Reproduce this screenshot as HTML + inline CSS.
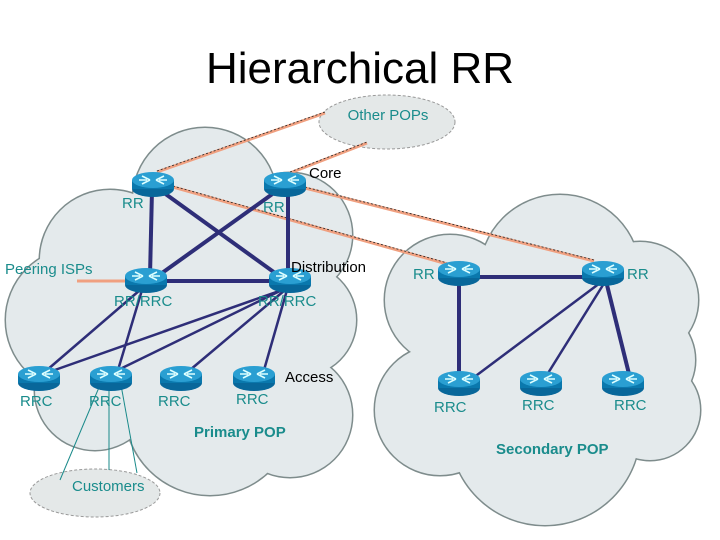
<!DOCTYPE html>
<html><head><meta charset="utf-8"><style>
body{margin:0;background:#fff;}
svg{display:block;}
text{font-family:"Liberation Sans",sans-serif;}
.t{fill:#1a8c8c;font-size:15px;}
.k{fill:#000;font-size:15px;}
</style></head><body>
<svg width="720" height="540" viewBox="0 0 720 540" xmlns="http://www.w3.org/2000/svg">
<defs>
<g id="r">
<ellipse cx="0" cy="5" rx="21" ry="8" fill="#08679a"/>
<rect x="-21" y="-4" width="42" height="9" fill="#0a78ad"/>
<ellipse cx="0" cy="-4" rx="21" ry="8" fill="#2a9fd2"/>
<path d="M-11,-8 L-3,-4 M-11,0 L-3,-4 M11,-8 L3,-4 M11,0 L3,-4 M-6,-4 L-14,-4 M6,-4 L14,-4" stroke="#dff" stroke-width="1.6" fill="none"/>
</g>
<g id="pc">
<circle cx="205" cy="200" r="72"/><circle cx="110" cy="260" r="70"/><circle cx="78" cy="320" r="72"/>
<circle cx="95" cy="390" r="60"/><circle cx="290" cy="235" r="62"/><circle cx="300" cy="320" r="56"/>
<circle cx="210" cy="410" r="85"/><circle cx="290" cy="415" r="62"/><circle cx="200" cy="300" r="90"/>
</g>
<g id="sc">
<circle cx="450" cy="300" r="65"/><circle cx="560" cy="275" r="80"/><circle cx="640" cy="300" r="58"/>
<circle cx="440" cy="410" r="65"/><circle cx="545" cy="430" r="95"/><circle cx="650" cy="410" r="50"/><circle cx="640" cy="360" r="55"/>
<circle cx="530" cy="350" r="90"/>
</g>
</defs>
<text x="360" y="83" text-anchor="middle" font-size="44" fill="#000">Hierarchical RR</text>

<use href="#pc" stroke="#7e8c8c" stroke-width="3" fill="#e4eaec"/>
<use href="#pc" fill="#e4eaec"/>
<use href="#sc" stroke="#7e8c8c" stroke-width="3" fill="#e4eaec"/>
<use href="#sc" fill="#e4eaec"/>

<ellipse cx="387" cy="122" rx="68" ry="27" stroke="#999" stroke-width="1" stroke-dasharray="3,2" fill="#e4e8e8"/>
<ellipse cx="95" cy="493" rx="65" ry="24" stroke="#999" stroke-width="1" stroke-dasharray="3,2" fill="#e4e8e8"/>

<g stroke="#f0a080" stroke-width="3" fill="none">
<line x1="157" y1="172" x2="325" y2="113"/><line x1="290" y1="173" x2="367" y2="143"/>
<line x1="173" y1="187" x2="458" y2="267"/><line x1="305" y1="188" x2="594" y2="261"/>
<line x1="77" y1="281" x2="127" y2="281"/>
</g>
<g stroke="#222" stroke-width="0.8" stroke-dasharray="2,2" fill="none">
<line x1="157" y1="171" x2="325" y2="112"/><line x1="290" y1="172" x2="367" y2="142"/>
<line x1="173" y1="186" x2="458" y2="266"/><line x1="305" y1="187" x2="594" y2="260"/>
</g>
<g stroke="#2e2e78" stroke-width="4" fill="none">
<line x1="152" y1="190" x2="150" y2="276"/><line x1="288" y1="190" x2="288" y2="276"/>
<line x1="160" y1="190" x2="282" y2="278"/><line x1="278" y1="190" x2="155" y2="278"/>
<line x1="160" y1="281" x2="280" y2="281"/>
<line x1="459" y1="280" x2="459" y2="378"/><line x1="470" y1="277" x2="590" y2="277"/>
<line x1="607" y1="285" x2="630" y2="378"/>
</g>
<g stroke="#2e2e78" stroke-width="2.5" fill="none">
<line x1="140" y1="290" x2="47" y2="370"/><line x1="142" y1="290" x2="118" y2="370"/>
<line x1="282" y1="290" x2="52" y2="371"/><line x1="282" y1="290" x2="118" y2="370"/>
<line x1="285" y1="290" x2="190" y2="370"/><line x1="287" y1="290" x2="264" y2="370"/>
<line x1="600" y1="283" x2="473" y2="378"/><line x1="603" y1="285" x2="545" y2="378"/>
</g>
<g stroke="#1a8a8a" stroke-width="1" fill="none">
<line x1="100" y1="385" x2="60" y2="480"/><line x1="109" y1="385" x2="109" y2="470"/><line x1="121" y1="385" x2="137" y2="473"/>
</g>

<use href="#r" x="153" y="184"/><use href="#r" x="285" y="184"/>
<use href="#r" x="146" y="280"/><use href="#r" x="290" y="280"/>
<use href="#r" x="39" y="378"/><use href="#r" x="111" y="378"/><use href="#r" x="181" y="378"/><use href="#r" x="254" y="378"/>
<use href="#r" x="459" y="273"/><use href="#r" x="603" y="273"/>
<use href="#r" x="459" y="383"/><use href="#r" x="541" y="383"/><use href="#r" x="623" y="383"/>

<text class="t" x="388" y="120" text-anchor="middle" font-size="14">Other POPs</text>
<text class="k" x="309" y="178">Core</text>
<text class="t" x="122" y="208">RR</text>
<text class="t" x="263" y="212">RR</text>
<text class="t" x="5" y="274">Peering ISPs</text>
<text class="k" x="291" y="272">Distribution</text>
<text class="t" x="114" y="306">RR/RRC</text>
<text class="t" x="258" y="306">RR/RRC</text>
<text class="k" x="285" y="382">Access</text>
<text class="t" x="20" y="406">RRC</text>
<text class="t" x="89" y="406">RRC</text>
<text class="t" x="158" y="406">RRC</text>
<text class="t" x="236" y="404">RRC</text>
<text class="t" x="194" y="437" font-weight="bold">Primary  POP</text>
<text class="t" x="72" y="491" font-size="14">Customers</text>
<text class="t" x="413" y="279">RR</text>
<text class="t" x="627" y="279">RR</text>
<text class="t" x="434" y="412">RRC</text>
<text class="t" x="522" y="410">RRC</text>
<text class="t" x="614" y="410">RRC</text>
<text class="t" x="496" y="454" font-weight="bold">Secondary POP</text>
</svg>
</body></html>
